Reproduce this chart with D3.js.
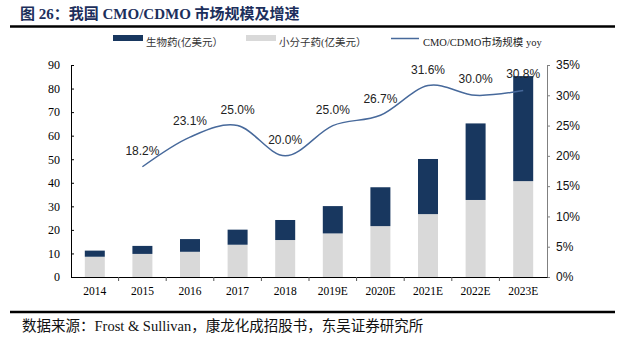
<!DOCTYPE html>
<html>
<head>
<meta charset="utf-8">
<script src="https://cdn.jsdelivr.net/npm/d3@7/dist/d3.min.js"></script>
<style>
  html, body { margin: 0; padding: 0; background: #fff; }
  svg { display: block; }
</style>
</head>
<body>
<svg id="chart" width="625" height="342"></svg>
<script>
// Market size of China's CMO/CDMO sector (USD 100 million) and yearly growth
const categories = ['2014', '2015', '2016', '2017', '2018', '2019E', '2020E', '2021E', '2022E', '2023E'];
const smallMolecule = [8.6, 9.8, 10.7, 13.7, 15.7, 18.5, 21.6, 26.7, 32.7, 40.7];
const biologics = [2.6, 3.4, 5.4, 6.4, 8.5, 11.6, 16.5, 23.4, 32.5, 44.6];
const yoyYears = ['2015', '2016', '2017', '2018', '2019E', '2020E', '2021E', '2022E', '2023E'];
const yoy = [18.2, 23.1, 25.0, 20.0, 25.0, 26.7, 31.6, 30.0, 30.8];
const leftTicks = [0, 10, 20, 30, 40, 50, 60, 70, 80, 90];
const rightTicks = [0, 5, 10, 15, 20, 25, 30, 35];

const titleText = '图 26：我国 CMO/CDMO 市场规模及增速';
const sourceText = '数据来源：Frost & Sullivan，康龙化成招股书，东吴证券研究所';
const legendLabels = ['生物药(亿美元）', '小分子药(亿美元）', 'CMO/CDMO市场规模 yoy'];

const NAVY = '#18375f';
const GRAY = '#d9d9d9';
const LINE = '#47699b';
const SERIF = '"Liberation Serif", "Times New Roman", "Noto Sans CJK SC", serif';
const SANS = '"Liberation Sans", Arial, sans-serif';
const CJK = '"Liberation Serif", "Noto Sans CJK SC", serif';

const svg = d3.select('#chart');

const plot = { left: 71, right: 547, top: 65, bottom: 277 };

const x = d3.scaleBand()
  .domain(categories)
  .range([plot.left, plot.right])
  .paddingInner(0.58)
  .paddingOuter(0.29);
const yL = d3.scaleLinear().domain([0, 90]).range([plot.bottom, plot.top]);
const yR = d3.scaleLinear().domain([0, 35]).range([plot.bottom, plot.top]);

// Title and rules
svg.append('text')
  .attr('x', 20).attr('y', 19)
  .attr('font-family', '"Liberation Serif", "Noto Sans CJK SC", serif')
  .attr('font-weight', 'bold')
  .attr('font-size', 15)
  .attr('fill', '#1c2f5c')
  .text(titleText);
svg.append('line')
  .attr('x1', 10).attr('x2', 615).attr('y1', 26.5).attr('y2', 26.5)
  .attr('stroke', '#000').attr('stroke-width', 2.5);
svg.append('line')
  .attr('x1', 10).attr('x2', 615).attr('y1', 312).attr('y2', 312)
  .attr('stroke', '#000').attr('stroke-width', 2.5);
svg.append('text')
  .attr('x', 22).attr('y', 331)
  .attr('font-family', CJK)
  .attr('font-size', 14.5)
  .attr('fill', '#111')
  .text(sourceText);

// Legend
const legend = svg.append('g').attr('font-family', CJK).attr('font-size', 10.5).attr('fill', '#333');
legend.append('rect').attr('x', 113).attr('y', 35).attr('width', 30).attr('height', 6).attr('fill', NAVY);
legend.append('text').attr('x', 146).attr('y', 45.5).text(legendLabels[0]);
legend.append('rect').attr('x', 246).attr('y', 35).attr('width', 30).attr('height', 6).attr('fill', GRAY);
legend.append('text').attr('x', 279).attr('y', 45.5).text(legendLabels[1]);
legend.append('line').attr('x1', 391).attr('x2', 419).attr('y1', 38.5).attr('y2', 38.5)
  .attr('stroke', LINE).attr('stroke-width', 1.5);
legend.append('text').attr('x', 423).attr('y', 45.5).attr('fill', '#222').text(legendLabels[2]);

// Stacked bars
const stackData = categories.map((c, i) => ({ cat: c, small: smallMolecule[i], bio: biologics[i] }));
const series = d3.stack().keys(['small', 'bio'])(stackData);
const colors = { small: GRAY, bio: NAVY };

svg.append('g').selectAll('g')
  .data(series)
  .join('g')
  .attr('fill', d => colors[d.key])
  .selectAll('rect')
  .data(d => d)
  .join('rect')
  .attr('x', d => x(d.data.cat))
  .attr('width', x.bandwidth())
  .attr('y', d => yL(d[1]))
  .attr('height', d => yL(d[0]) - yL(d[1]));

// Left axis (ticks point inward)
const axL = svg.append('g')
  .attr('transform', `translate(${plot.left},0)`)
  .call(d3.axisLeft(yL).tickValues(leftTicks).tickSize(-3).tickPadding(11).tickSizeOuter(0));
axL.select('.domain').attr('stroke', '#000');
axL.selectAll('.tick line').attr('stroke', '#000');
axL.selectAll('text').attr('font-family', SERIF).attr('font-size', 12).attr('fill', '#000');

// Right axis (percent)
const axR = svg.append('g')
  .attr('transform', `translate(${plot.right},0)`)
  .call(d3.axisRight(yR).tickValues(rightTicks).tickFormat(d => d + '%').tickSize(3).tickPadding(6).tickSizeOuter(0));
axR.select('.domain').attr('stroke', '#808080');
axR.selectAll('.tick line').attr('stroke', '#808080');
axR.selectAll('text').attr('font-family', SANS).attr('font-size', 12).attr('fill', '#111');

// Bottom axis with labels at category centers
const axB = svg.append('g')
  .attr('transform', `translate(0,${plot.bottom})`)
  .call(d3.axisBottom(x).tickSize(0).tickPadding(10).tickSizeOuter(0));
axB.select('.domain').attr('stroke', '#000');
axB.selectAll('text').attr('font-family', SERIF).attr('font-size', 11.5).attr('fill', '#000');

// Category separator ticks below the baseline
const step = x.step();
const bounds = d3.range(1, categories.length).map(i => plot.left + i * step);
svg.append('g').selectAll('line')
  .data(bounds)
  .join('line')
  .attr('x1', d => d).attr('x2', d => d)
  .attr('y1', plot.bottom).attr('y2', plot.bottom + 4)
  .attr('stroke', '#555');

// Growth line
const cx = c => x(c) + x.bandwidth() / 2;
const linePts = yoyYears.map((c, i) => [cx(c), yR(yoy[i])]);
svg.append('path')
  .attr('d', d3.line().curve(d3.curveCardinal.tension(0))(linePts))
  .attr('fill', 'none')
  .attr('stroke', LINE)
  .attr('stroke-width', 1.5);

svg.append('g').selectAll('text')
  .data(yoyYears)
  .join('text')
  .attr('x', c => cx(c))
  .attr('y', (c, i) => yR(yoy[i]) - 12)
  .attr('text-anchor', 'middle')
  .attr('font-family', SANS)
  .attr('font-size', 12)
  .attr('fill', '#222')
  .text((c, i) => yoy[i].toFixed(1) + '%');
</script>
</body>
</html>
